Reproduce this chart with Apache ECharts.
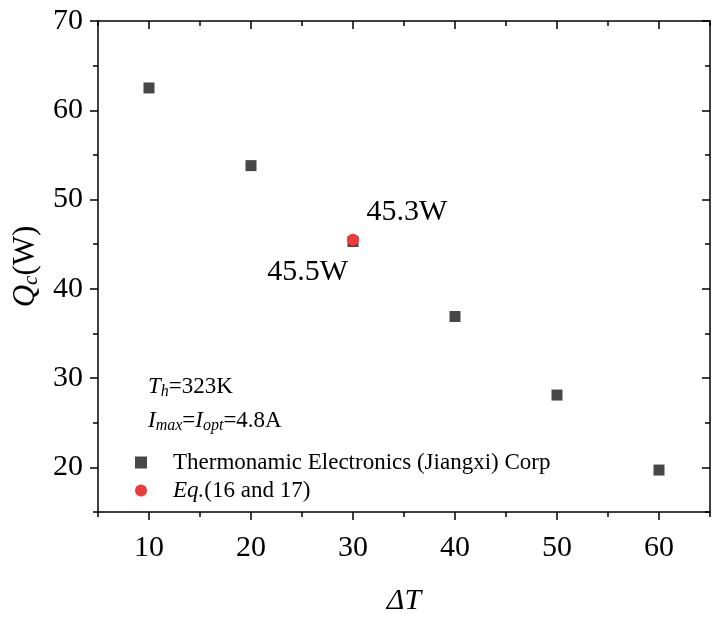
<!DOCTYPE html>
<html>
<head>
<meta charset="utf-8">
<script src="https://cdn.jsdelivr.net/npm/echarts@6/dist/echarts.min.js"></script>
<style>
  html, body { margin: 0; padding: 0; background: #fff; }
  #chart { width: 712px; height: 617px; }
</style>
</head>
<body>
<div id="chart"></div>
<script>
// data
const deltaT = [10, 20, 30, 40, 50, 60]
const qcMeasured = [62.5, 53.8, 45.3, 36.9, 28.1, 19.7]
const eqDeltaT = [30]
const eqQc = [45.5]
const seriesNames = ['Thermonamic Electronics (Jiangxi) Corp', 'Eq.(16 and 17)']
// tick labels
const xMajor = [10, 20, 30, 40, 50, 60]
const xMinor = [5, 15, 25, 35, 45, 55, 65]
const yMajor = [20, 30, 40, 50, 60, 70]
const yMinor = [15, 25, 35, 45, 55, 65]

const FONT = 'Liberation Serif'
let chart = echarts.init(document.getElementById('chart'))

// one axis = line + long ticks; the short ticks sit on a twin axis with no line
function makeAxis(kind, pos, major, minor, inside, withLabels) {
  const lim = kind === 'x' ? { min: 5, max: 65, interval: 5 } : { min: 15, max: 70, interval: 5 }
  const main = Object.assign({
    type: 'value', position: pos,
    axisLine: { show: true, onZero: false, lineStyle: { color: '#000', width: 1.5 } },
    splitLine: { show: false },
    axisTick: { show: true, inside: inside, length: 8, customValues: major, lineStyle: { color: '#000', width: 1.5 } },
    axisLabel: withLabels
      ? { show: true, customValues: major, fontFamily: FONT, fontSize: 30, color: '#000',
          margin: kind === 'x' ? 21 : 15 }
      : { show: false }
  }, lim)
  const twin = Object.assign({
    type: 'value', position: pos,
    axisLine: { show: false, onZero: false },
    splitLine: { show: false },
    axisTick: { show: true, inside: inside, length: 5, customValues: minor, lineStyle: { color: '#000', width: 1.5 } },
    axisLabel: { show: false }
  }, lim)
  return [main, twin]
}

const xAxes = makeAxis('x', 'bottom', xMajor, xMinor, false, true)
  .concat(makeAxis('x', 'top', xMajor, xMinor, true, false))
const yAxes = makeAxis('y', 'left', yMajor, yMinor, false, true)
  .concat(makeAxis('y', 'right', yMajor, yMinor, true, false))

Object.assign(xAxes[0], {
  name: 'ΔT', nameLocation: 'middle', nameGap: 74,
  nameTextStyle: { fontFamily: FONT, fontSize: 30, fontStyle: 'italic', color: '#000' }
})
Object.assign(yAxes[0], {
  name: '{i|Q}{s|c}{n|(W)}', nameLocation: 'middle', nameGap: 45, nameRotate: 90,
  nameTextStyle: {
    color: '#000',
    rich: {
      i: { fontFamily: FONT, fontSize: 31, fontStyle: 'italic', color: '#000' },
      s: { fontFamily: FONT, fontSize: 21, fontStyle: 'italic', color: '#000', padding: [12, 0, 0, 0] },
      n: { fontFamily: FONT, fontSize: 31, color: '#000' }
    }
  }
})

const subRich = {
  i: { fontFamily: FONT, fontSize: 23, fontStyle: 'italic', fill: '#000' },
  s: { fontFamily: FONT, fontSize: 16, fontStyle: 'italic', fill: '#000', padding: [11, 0, 0, 0] },
  n: { fontFamily: FONT, fontSize: 23, fill: '#000' }
}

const option = {
  animation: false,
  backgroundColor: '#fff',
  grid: { left: 98, right: 2, top: 21, bottom: 105, containLabel: false, outerBoundsMode: 'none' },
  legend: {
    orient: 'vertical',
    left: 130, top: 446,
    itemWidth: 12, itemHeight: 12, itemGap: 5,
    data: [
      { name: seriesNames[0], icon: 'rect' },
      { name: seriesNames[1], icon: 'circle' }
    ],
    formatter: function (name) {
      if (name === seriesNames[1]) return '{i|Eq.}{n|(16 and 17)}'
      return '{n|' + name + '}'
    },
    textStyle: {
      fontFamily: FONT, fontSize: 23, color: '#000', padding: [0, 0, 0, 21],
      rich: {
        n: { fontFamily: FONT, fontSize: 23, color: '#000' },
        i: { fontFamily: FONT, fontSize: 23, color: '#000', fontStyle: 'italic' }
      }
    }
  },
  xAxis: xAxes,
  yAxis: yAxes,
  graphic: [
    { type: 'text', left: 148, top: 375, style: { text: '{i|T}{s|h}{n|=323K}', rich: subRich } },
    { type: 'text', left: 148, top: 409, style: { text: '{i|I}{s|max}{n|=}{i|I}{s|opt}{n|=4.8A}', rich: subRich } }
  ],
  series: [
    {
      name: seriesNames[0], type: 'scatter', xAxisIndex: 0, yAxisIndex: 0,
      symbol: 'rect', symbolSize: 11,
      itemStyle: { color: '#474747', opacity: 1 },
      data: deltaT.map((x, i) => ({
        value: [x, qcMeasured[i]],
        label: x === 30 ? {
          show: true, position: 'right', offset: [3, -29],
          formatter: v => v.value[1].toFixed(1) + 'W',
          fontFamily: FONT, fontSize: 30, color: '#000'
        } : { show: false }
      })),
      z: 2
    },
    {
      name: seriesNames[1], type: 'scatter', xAxisIndex: 0, yAxisIndex: 0,
      symbol: 'circle', symbolSize: 12,
      itemStyle: { color: '#ee3a3a', opacity: 1 },
      data: eqDeltaT.map((x, i) => ({
        value: [x, eqQc[i]],
        label: {
          show: true, position: 'left', offset: [6, 32],
          formatter: v => v.value[1].toFixed(1) + 'W',
          fontFamily: FONT, fontSize: 30, color: '#000'
        }
      })),
      z: 3
    }
  ]
}
chart.setOption(option)
</script>
</body>
</html>
